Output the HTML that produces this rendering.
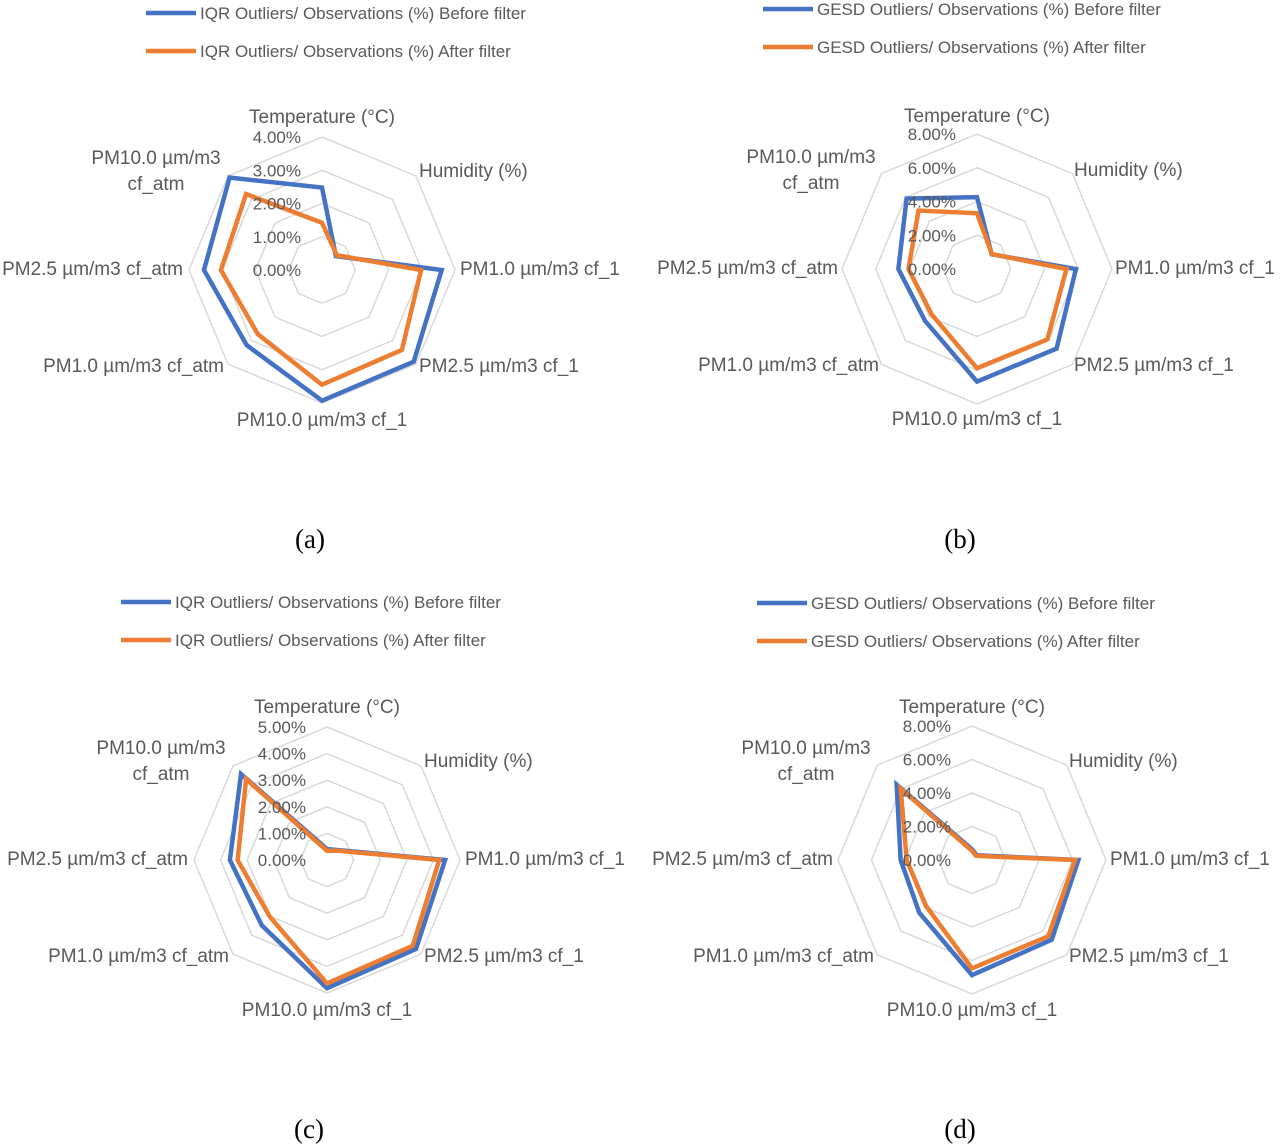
<!DOCTYPE html>
<html><head><meta charset="utf-8"><style>
body{margin:0;background:#fff;}
svg{display:block;font-family:"Liberation Sans",sans-serif;}
.lbl{fill:#595959;font-size:17px;}
.cat{fill:#595959;font-size:19px;}
.cap{font-family:"Liberation Serif",serif;font-size:27px;fill:#000;}
</style></head><body>
<svg id="svg" width="1280" height="1148" viewBox="0 0 1280 1148"></svg>
<script>
const categories = ["Temperature (°C)","Humidity (%)","PM1.0 µm/m3 cf_1","PM2.5 µm/m3 cf_1","PM10.0 µm/m3 cf_1","PM1.0 µm/m3 cf_atm","PM2.5 µm/m3 cf_atm","PM10.0 µm/m3 cf_atm"];
const aBefore = [2.48,0.59,3.6,3.9,3.93,3.2,3.55,3.93];
const aAfter  = [1.42,0.63,2.98,3.4,3.45,2.73,3.04,3.23];
const bBefore = [4.26,1.23,5.86,6.67,6.67,4.35,4.66,5.9];
const bAfter  = [3.3,1.25,5.3,5.9,5.88,3.8,4.06,4.9];
const cBefore = [0.41,0.53,4.44,4.73,4.82,3.47,3.65,4.57];
const cAfter  = [0.35,0.5,4.22,4.56,4.64,3.03,3.36,4.3];
const dBefore = [0.64,0.4,6.35,6.73,6.87,4.45,4.26,6.36];
const dAfter  = [0.55,0.35,6.15,6.44,6.47,3.88,3.9,6.02];
const aTicks = ["0.00%","1.00%","2.00%","3.00%","4.00%"];
const bTicks = ["0.00%","2.00%","4.00%","6.00%","8.00%"];
const cTicks = ["0.00%","1.00%","2.00%","3.00%","4.00%","5.00%"];
const dTicks = ["0.00%","2.00%","4.00%","6.00%","8.00%"];
const aLegend = ["IQR Outliers/ Observations (%) Before filter","IQR Outliers/ Observations (%) After filter"];
const bLegend = ["GESD Outliers/ Observations (%) Before filter","GESD Outliers/ Observations (%) After filter"];

const NS="http://www.w3.org/2000/svg";
const svg=document.getElementById('svg');
function mk(tag,attrs,parent){const e=document.createElementNS(NS,tag);for(const k in attrs)e.setAttribute(k,attrs[k]);(parent||svg).appendChild(e);return e;}
function txt(s,x,y,anchor,cls,parent){const t=mk('text',{x:x,y:y,'text-anchor':anchor,'class':cls},parent);t.textContent=s;return t;}

function radar(id,cx,cy,R,max,ticks,before,after,legend,lx,ly,caption,capx,capy){
  const g=mk('g',{});
  
  
  const ang=i=>-Math.PI/2+i*Math.PI/4;
  const pt=(i,v)=>{const r=v/max*R;return [cx+r*Math.cos(ang(i)),cy+r*Math.sin(ang(i))];};
  for(let k=1;k<ticks.length;k++){
    const v=max*k/(ticks.length-1);
    const p=categories.map((c,i)=>pt(i,v).join(',')).join(' ');
    const ring=mk('polygon',{points:p,fill:'none',stroke:'#d9d9d9','stroke-width':1.5},g);
    
    
  }
  [[before,'#4472c4','series-before'],[after,'#ed7d31','series-after']].forEach(s=>{
    const p=s[0].map((v,i)=>pt(i,v).join(',')).join(' ');
    const poly=mk('polygon',{points:p,fill:'none',stroke:s[1],'stroke-width':4.5,'stroke-linejoin':'miter'},g);
    
    
  });
  ticks.forEach((t,k)=>{
    const e=txt(t,cx-21,cy-R*k/(ticks.length-1)+6,'end','lbl',g);
    
    
  });
  const L=[[0,-147,'middle'],[97,-93,'start'],[138,5,'start'],[97,102,'start'],[0,156,'middle'],[-98,102,'end'],[-139,5,'end']];
  L.forEach((o,i)=>{
    const e=txt(categories[i],cx+o[0],cy+o[1],o[2],'cat',g);
    
    
  });
  const e1=txt("PM10.0 µm/m3",cx-166,cy-106,'middle','cat',g);
  
  
  const e2=txt("cf_atm",cx-166,cy-80,'middle','cat',g);
  
  
  [['#4472c4',0],['#ed7d31',1]].forEach(s=>{
    const y=ly+s[1]*38;
    const ln=mk('line',{x1:lx,y1:y,x2:lx+50,y2:y,stroke:s[0],'stroke-width':4.5},g);
    
    
    const t=txt(legend[s[1]],lx+54,y+6,'start','lbl',g);
    
    
  });
  const c=txt(caption,capx,capy,'middle','cap',g);
  
  
}
radar('a',322,270,133,4,aTicks,aBefore,aAfter,aLegend,146,13,'(a)',310,548);
radar('b',977,269,135,8,bTicks,bBefore,bAfter,bLegend,763,9,'(b)',960,548);
radar('c',327,860,133,5,cTicks,cBefore,cAfter,aLegend,121,602,'(c)',309,1138);
radar('d',972,860,134,8,dTicks,dBefore,dAfter,bLegend,757,603,'(d)',960,1138);
</script>
</body></html>
